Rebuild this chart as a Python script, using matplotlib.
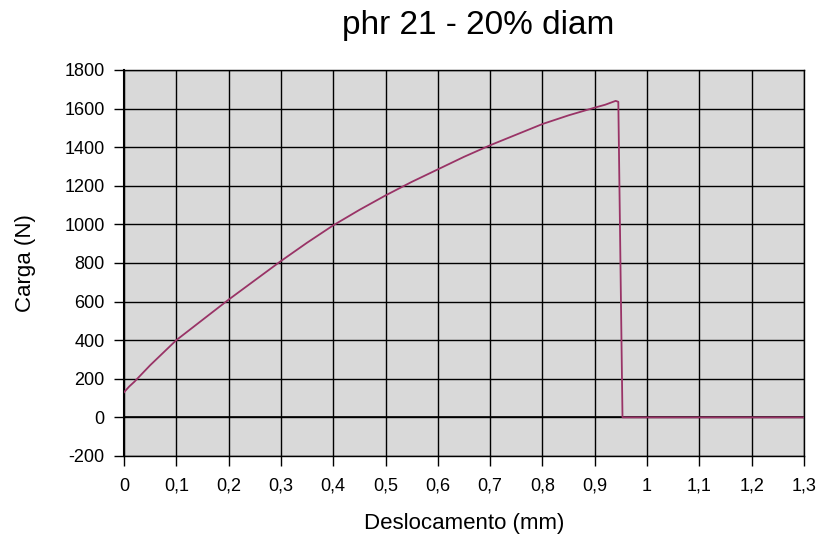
import numpy as np
import matplotlib.pyplot as plt

plt.rcParams['font.family'] = ['Liberation Sans', 'DejaVu Sans']
plt.rcParams['axes.unicode_minus'] = False

# deslocamento (mm) e carga (N)
desloc = [0, 0.01, 0.02, 0.05, 0.1, 0.15, 0.2, 0.25, 0.3, 0.35, 0.4, 0.45, 0.5,
          0.55, 0.6, 0.65, 0.7, 0.75, 0.8, 0.85, 0.9, 0.92, 0.94, 0.945, 0.953,
          1.0, 1.1, 1.2, 1.3]
carga = [130, 160, 185, 270, 400, 505, 610, 710, 810, 905, 995, 1075, 1150,
         1220, 1285, 1350, 1410, 1465, 1520, 1565, 1605, 1620, 1640, 1635, 0,
         0, 0, 0, 0]

xticks = np.round(np.arange(0, 1.31, 0.1), 1)
xlabels = [('%g' % v).replace('.', ',') for v in xticks]
yticks = np.arange(-200, 1801, 200)

fig = plt.figure(figsize=(8.2, 5.35), dpi=100)
ax = fig.add_axes([0.1512, 0.1477, 0.8293, 0.7215])
ax.set_facecolor('#d9d9d9')

ax.plot(desloc, carga, color='#993366', lw=1.3, zorder=3)
ax.axhline(0, color='black', lw=1.2, zorder=2)

ax.set_xlim(0, 1.3)
ax.set_ylim(-200, 1800)
ax.set_xticks(xticks)
ax.set_xticklabels(xlabels, va='baseline')
ax.set_yticks(yticks)
ax.grid(True, color='black', lw=1)
ax.set_axisbelow(True)
ax.tick_params(direction='out', length=7, width=1, labelsize=13)
ax.tick_params(axis='x', pad=18)
ax.tick_params(axis='y', pad=7)
for s in ax.spines.values():
    s.set_color('black')
    s.set_linewidth(1)
ax.spines['left'].set_linewidth(1.5)

ax.set_xlabel('Deslocamento (mm)', fontsize=16, labelpad=13)
ax.set_ylabel('Carga (N)', fontsize=16, labelpad=20)
fig.text(0.583, 0.953, 'phr 21 - 20% diam', ha='center', va='center', fontsize=24)

fig.savefig('out.png', dpi=100)
